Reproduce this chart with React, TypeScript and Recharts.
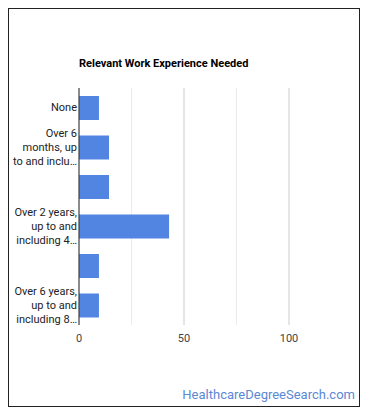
import { BarChart, Bar, XAxis, YAxis, CartesianGrid } from 'recharts';

const categories = [
  'None',
  'Over 6 months, up to and including 1 year',
  'Over 1 year, up to and including 2 years',
  'Over 2 years, up to and including 4 years',
  'Over 4 years, up to and including 6 years',
  'Over 6 years, up to and including 8 years',
];
// shown labels (Google Charts skips every other long one)
const tickLines = [
  ['None'],
  ['Over 6', 'months, up', 'to and inclu…'],
  [],
  ['Over 2 years,', 'up to and', 'including 4…'],
  [],
  ['Over 6 years,', 'up to and', 'including 8…'],
];
const values = [9.5, 14.3, 14.3, 42.9, 9.5, 9.5];
const xTicks = [0, 50, 100];
const minorTicks = [25, 75];

const data = categories.map((name, i) => ({ name, value: values[i] }));

const font = 'Roboto, Arial, sans-serif';

function YTick(props: any) {
  const { x, y, payload } = props;
  const lines = tickLines[payload.index] || [];
  return (
    <g>
      {lines.map((l, i) => (
        <text
          key={i}
          x={x}
          y={y + (i - (lines.length - 1) / 2) * 14}
          textAnchor="end"
          dominantBaseline="central"
          fontSize={11}
          fontFamily={font}
          fill="#222"
        >
          {l}
        </text>
      ))}
    </g>
  );
}

function XTick(props: any) {
  const { x, y, payload } = props;
  return (
    <text x={x} y={y + 13} textAnchor="middle" dominantBaseline="central" fontSize={11} fontFamily={font} fill="#444">
      {payload.value}
    </text>
  );
}

export default function App() {
  return (
    <div style={{ position: 'relative', width: 350, height: 397, border: '1px solid #222', background: '#fff' }}>
      <div
        style={{
          position: 'absolute', left: 70, top: 47, fontFamily: font, fontSize: 11,
          fontWeight: 'bold', color: '#000', lineHeight: '16px', whiteSpace: 'nowrap',
        }}
      >
        Relevant Work Experience Needed
      </div>
      <BarChart
        width={350}
        height={397}
        data={data}
        layout="vertical"
        margin={{ top: 79, right: 70, left: 0, bottom: 51 }}
      >
        <CartesianGrid horizontal={false} verticalValues={minorTicks} stroke="#ebebeb" />
        <CartesianGrid horizontal={false} verticalValues={xTicks} stroke="#ccc" />
        <XAxis
          type="number"
          domain={[0, 100]}
          ticks={xTicks}
          axisLine={false}
          tickLine={false}
          tickSize={0}
          tickMargin={0}
          height={30}
          tick={<XTick />}
        />
        <YAxis
          type="category"
          dataKey="name"
          width={70}
          tickLine={false}
          tickSize={0}
          tickMargin={2}
          interval={0}
          axisLine={{ stroke: '#333' }}
          tick={<YTick />}
        />
        <Bar dataKey="value" fill="#5285e2" barSize={24} isAnimationActive={false} />
      </BarChart>
      <div
        style={{
          position: 'absolute', right: 4, top: 378, fontFamily: font, fontSize: 13,
          color: '#5b88d4', lineHeight: '16px', whiteSpace: 'nowrap',
        }}
      >
        HealthcareDegreeSearch.com
      </div>
    </div>
  );
}
